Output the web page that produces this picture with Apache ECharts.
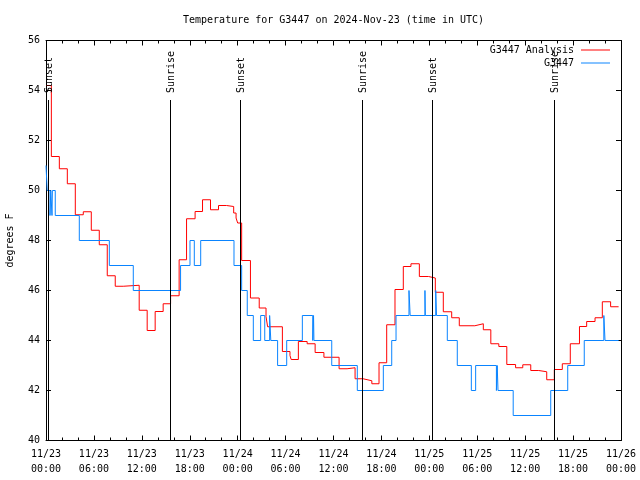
<!DOCTYPE html>
<html><head><meta charset="utf-8">
<script src="https://cdn.jsdelivr.net/npm/echarts@6/dist/echarts.min.js"></script>
<style>html,body{margin:0;padding:0;background:#fff}#c{width:640px;height:480px}</style>
</head><body><div id="c"></div>
<script>
const titleText = 'Temperature for G3447 on 2024-Nov-23 (time in UTC)';
const yAxisName = 'degrees F';
const xTickLabels = ['11/23\n00:00','11/23\n06:00','11/23\n12:00','11/23\n18:00','11/24\n00:00','11/24\n06:00','11/24\n12:00','11/24\n18:00','11/25\n00:00','11/25\n06:00','11/25\n12:00','11/25\n18:00','11/26\n00:00'];

// hours since 11/23 00:00 UTC, step values
const analysisHours = [0,0.67,1.67,2.67,3.67,4.67,5.67,6.67,7.67,8.67,9.67,11.67,12.67,13.67,14.67,15.6,16.67,17.6,18.67,19.6,20.6,21.6,22.6,23.5,23.8,24.0,24.5,25.6,26.7,27.55,27.75,29.6,30.55,30.7,31.6,32.7,33.7,34.8,36.7,37.7,38.7,39.7,40.8,41.7,42.66,43.7,44.74,45.7,46.75,47.9,48.75,49.75,50.8,51.75,53.7,54.76,55.7,56.7,57.7,58.8,59.7,60.7,61.7,62.7,63.65,64.65,65.65,66.8,67.7,68.75,69.66,70.7,71.7];
const analysisTemps = [54.2,51.36,50.87,50.27,49.03,49.15,48.41,47.83,46.59,46.17,46.21,45.21,44.4,45.16,45.47,45.79,47.23,48.87,49.16,49.63,49.23,49.4,49.36,49.1,48.9,48.7,47.2,45.7,45.3,44.96,44.55,43.56,43.4,43.24,43.96,43.87,43.52,43.33,42.87,42.91,42.47,42.39,42.27,43.11,44.63,46.04,46.96,47.07,46.56,46.5,45.93,45.15,44.91,44.59,44.67,44.43,43.87,43.76,43.04,42.91,43.03,42.8,42.75,42.43,42.84,43.07,43.87,44.56,44.76,44.91,45.55,45.35,45.35];

const obsHours = [0,0.15,0.5,0.6,0.75,0.8,1.16,4.17,7.93,10.93,16.85,18.03,18.57,19.37,23.54,24.5,25.2,25.96,26.88,27.39,28.0,28.15,29.0,30.14,32.1,33.4,33.5,33.55,35.78,38.98,42.24,43.29,43.83,45.45,45.6,47.45,47.5,48.8,48.9,50.25,51.5,53.26,53.8,56.4,56.5,56.6,58.5,63.2,65.33,67.4,69.85,70.0,71.7];
const obsTemps = [51,50,49,50,49,50,49,48,47,46,47,48,47,48,47,46,45,44,45,44,45,44,43,44,45,44,45,44,43,42,43,44,45,46,45,46,45,46,45,44,43,42,43,42,43,42,41,42,43,44,45,44,44];

const eventHours = [0.29,15.57,24.33,39.6,48.37,63.65];
const eventNames = ['Sunset','Sunrise','Sunset','Sunrise','Sunset','Sunrise'];

const FONT = 'DejaVu Sans Mono';
const chart = echarts.init(document.getElementById('c'), null, {renderer:'canvas'});
const zip = (a,b) => a.map((v,i)=>[v,b[i]]);
const axisCommon = {
  axisLine:{show:true,onZero:false,lineStyle:{color:'#000',width:1}},
  axisTick:{show:true,inside:true,length:5,lineStyle:{color:'#000'}},
  splitLine:{show:false}
};
chart.setOption({
  animation:false,
  backgroundColor:'#fff',
  title:{text:titleText,left:178,top:10,textStyle:{fontFamily:FONT,fontSize:10,fontWeight:'normal',color:'#000'}},
  legend:[
    {data:['G3447 Analysis'],right:25,top:40,orient:'vertical',align:'right',icon:'rect',itemWidth:29,itemHeight:1,itemGap:0,
     textStyle:{fontFamily:FONT,fontSize:10,color:'#000',padding:[0,2,0,0]}},
    {data:['G3447'],right:25,top:53,orient:'vertical',align:'right',icon:'rect',itemWidth:29,itemHeight:1,itemGap:0,
     textStyle:{fontFamily:FONT,fontSize:10,color:'#000',padding:[0,2,0,0]}}
  ],
  grid:{left:46,right:19,top:40.5,bottom:39.5,containLabel:false,outerBoundsMode:'none'},
  xAxis:[
    Object.assign({type:'value',min:0,max:72,interval:6,position:'bottom',
      minorTick:{show:true,splitNumber:3,length:3,lineStyle:{color:'#000'}},
      axisLabel:{show:true,margin:6,lineHeight:15,fontFamily:FONT,fontSize:10,color:'#000',
        formatter:v=>xTickLabels[Math.round(v/6)]}}, axisCommon),
    Object.assign({type:'value',min:0,max:72,interval:6,position:'top',
      minorTick:{show:true,splitNumber:3,length:3,lineStyle:{color:'#000'}},
      axisLabel:{show:false}}, axisCommon)
  ],
  yAxis:[
    Object.assign({type:'value',min:40,max:56,interval:2,position:'left',
      name:yAxisName,nameLocation:'middle',nameRotate:90,nameGap:31,
      nameTextStyle:{fontFamily:FONT,fontSize:10,color:'#000'},
      axisLabel:{show:true,margin:6,fontFamily:FONT,fontSize:10,color:'#000'}}, axisCommon),
    Object.assign({type:'value',min:40,max:56,interval:2,position:'right',
      axisLabel:{show:false}}, axisCommon)
  ],
  series:[
    {name:'G3447 Analysis',type:'line',step:'end',showSymbol:false,symbol:'none',
     data:zip(analysisHours,analysisTemps),lineStyle:{color:'#ff0000',width:1},itemStyle:{color:'#ff0000'},z:2},
    {name:'G3447',type:'line',step:'end',showSymbol:false,symbol:'none',
     data:zip(obsHours,obsTemps),lineStyle:{color:'#0a84ff',width:1},itemStyle:{color:'#0a84ff'},z:3},
    {name:'events',type:'custom',z:4,silent:true,
     data:eventHours.map(h=>[h,40]),
     renderItem:(params,api)=>{
       const t = api.value(0);
       const bottom = api.coord([t,40]);
       const top = api.coord([t,56]);
       const x = Math.round(bottom[0])+0.5;
       return {type:'group',children:[
         {type:'line',shape:{x1:x,y1:Math.round(bottom[1]),x2:x,y2:Math.round(top[1])+59},style:{stroke:'#000',lineWidth:1}},
         {type:'text',x:x+1,y:Math.round(top[1])+52,rotation:Math.PI/2,
          style:{text:eventNames[params.dataIndex],fill:'#000',font:'10px '+FONT,align:'left',verticalAlign:'middle'}}
       ]};
     }}
  ]
});
</script></body></html>
